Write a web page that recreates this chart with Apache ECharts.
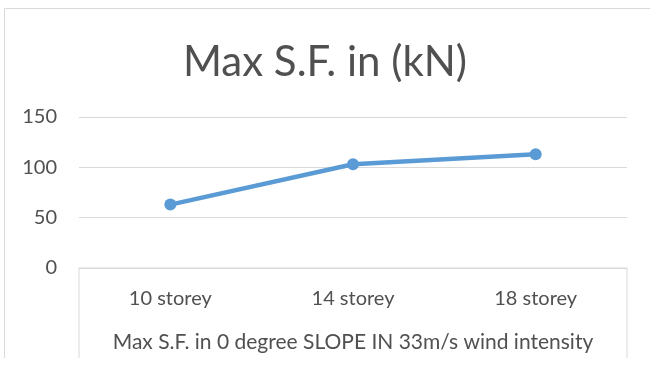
<!DOCTYPE html>
<html>
<head>
<meta charset="utf-8">
<script src="https://cdn.jsdelivr.net/npm/echarts@6/dist/echarts.min.js"></script>
<style>
  html, body { margin: 0; padding: 0; background: #fff; }
  #chart { width: 650px; height: 365px; }
</style>
</head>
<body>
<div id="chart"></div>
<script>
// Max shear force per building height, 0 degree slope, 33 m/s wind
const categories = ['10 storey', '14 storey', '18 storey'];
const maxShearForce = [63, 103, 113];
const yTicks = { min: 0, max: 150, interval: 50 };

const titleText = 'Max S.F. in (kN)';
const axisName = 'Max S.F. in 0 degree SLOPE IN 33m/s wind intensity';

const FONT = 'Lato, "Open Sans", sans-serif';
const TEXT = '#505050';
const RULE = '#d9d9d9';

const chart = echarts.init(document.getElementById('chart'), null, { renderer: 'canvas' });

chart.setOption({
  backgroundColor: '#ffffff',
  animation: false,
  title: {
    text: titleText,
    left: 'center',
    top: 36,
    textStyle: { fontFamily: FONT, fontSize: 42, fontWeight: 'normal', color: TEXT }
  },
  graphic: [{
    type: 'rect',
    shape: { x: 4.5, y: 8.5, width: 700, height: 400 },
    style: { fill: 'none', stroke: RULE, lineWidth: 1 },
    silent: true,
    z: 0
  }, {
    // the chart area is cut off a few pixels above the bottom edge
    type: 'rect',
    shape: { x: 0, y: 358, width: 650, height: 10 },
    style: { fill: '#ffffff' },
    silent: true,
    z: 100
  }],
  grid: [
    { left: 79, right: 23, top: 117, bottom: 97 },
    // frame around the category label band
    { left: 79, right: 23, top: 268, height: 110, show: true, borderColor: RULE, borderWidth: 1, backgroundColor: 'transparent' }
  ],
  xAxis: [{
    type: 'category',
    data: categories,
    boundaryGap: true,
    axisLine: { show: true, lineStyle: { color: RULE, width: 1 } },
    axisTick: { show: false },
    axisLabel: { fontFamily: FONT, fontSize: 20, color: TEXT, margin: 21 },
    name: axisName,
    nameLocation: 'middle',
    nameGap: 64,
    nameTextStyle: { fontFamily: FONT, fontSize: 21, color: TEXT }
  }, {
    type: 'category', gridIndex: 1, show: false, data: categories
  }],
  yAxis: [{
    type: 'value',
    min: yTicks.min,
    max: yTicks.max,
    interval: yTicks.interval,
    axisLine: { show: false },
    axisTick: { show: false },
    splitLine: { lineStyle: { color: RULE, width: 1 } },
    axisLabel: { fontFamily: FONT, fontSize: 20, color: TEXT, margin: 22 }
  }, {
    type: 'value', gridIndex: 1, show: false
  }],
  series: [{
    type: 'line',
    data: maxShearForce,
    symbol: 'circle',
    symbolSize: 12,
    lineStyle: { color: '#5b9bd5', width: 4.5 },
    itemStyle: { color: '#5b9bd5' }
  }]
});
</script>
</body>
</html>
